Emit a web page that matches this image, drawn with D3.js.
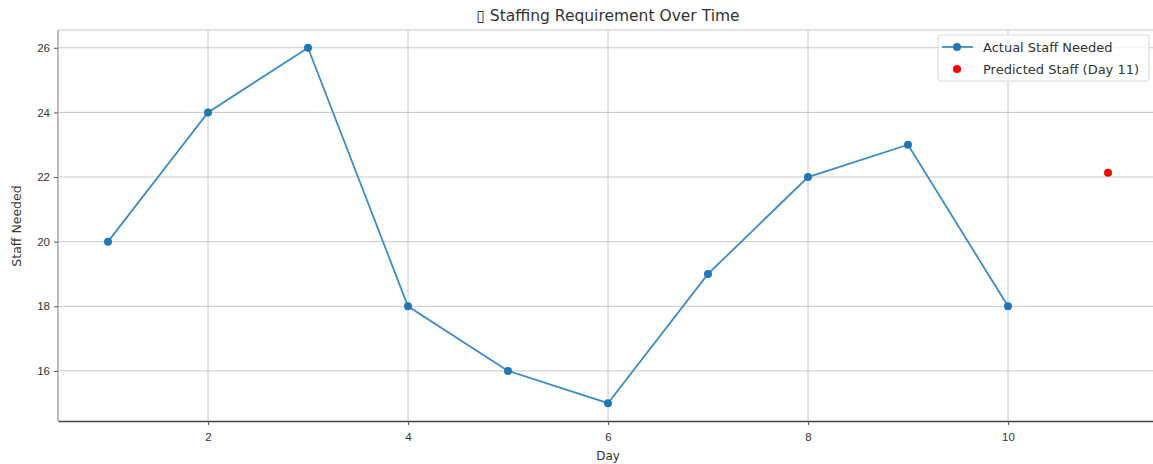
<!DOCTYPE html>
<html lang="en">
<head>
  <meta charset="UTF-8">
  <title>Staffing Requirement Over Time</title>
  <script src="https://d3js.org/d3.v7.min.js"></script>
  <style>
    body { margin: 0; background: #fff; }
    svg { font-family: "DejaVu Sans", sans-serif; }
    .grid line { stroke: #b0b0b0; stroke-opacity: 0.7; stroke-width: 1px; }
    .tick text { fill: #333; font-size: 11.5px; }
  </style>
</head>
<body>
  <svg width="1153" height="464"></svg>

  <script>
    const days = [1, 2, 3, 4, 5, 6, 7, 8, 9, 10];
    const staffNeeded = [20, 24, 26, 18, 16, 15, 19, 22, 23, 18];
    const predictedDay = [11];
    const predictedStaff = [22.13];
    const xTicks = [2, 4, 6, 8, 10];
    const yTicks = [16, 18, 20, 22, 24, 26];

    const data = days.map((d, i) => ({ day: d, value: staffNeeded[i] }));
    const pred = predictedDay.map((d, i) => ({ day: d, value: predictedStaff[i] }));

    const svg = d3.select("svg"),
      margin = { top: 30, right: -5, bottom: 43, left: 58 },
      width = +svg.attr("width") - margin.left - margin.right,
      height = +svg.attr("height") - margin.top - margin.bottom;

    const g = svg.append("g").attr("transform", `translate(${margin.left},${margin.top})`);

    const x = d3.scaleLinear().domain([0.5, 11.5]).range([0, width]);
    const y = d3.scaleLinear().domain([14.45, 26.55]).range([height, 0]);

    // grid
    g.append("g").attr("class", "grid")
      .selectAll("line").data(xTicks).enter().append("line")
      .attr("x1", d => x(d)).attr("x2", d => x(d))
      .attr("y1", 0).attr("y2", height);
    g.append("g").attr("class", "grid")
      .selectAll("line").data(yTicks).enter().append("line")
      .attr("x1", 0).attr("x2", width)
      .attr("y1", d => y(d)).attr("y2", d => y(d));

    // frame
    g.append("line").attr("x1", 0).attr("x2", width).attr("y1", 0).attr("y2", 0)
      .attr("stroke", "#c8c8c8");
    g.append("line").attr("x1", 0).attr("x2", 0).attr("y1", 0).attr("y2", height)
      .attr("stroke", "#bdbdbd").attr("stroke-width", 2);

    // X Axis
    const xAxis = g.append("g")
      .attr("transform", `translate(0,${height})`)
      .call(d3.axisBottom(x).tickValues(xTicks).tickSize(4).tickSizeOuter(0).tickPadding(8).tickFormat(d3.format("d")));
    xAxis.select(".domain").attr("stroke", "#444").attr("stroke-width", 1.5);
    xAxis.selectAll(".tick line").attr("stroke", "#555");

    // Y Axis
    const yAxis = g.append("g")
      .call(d3.axisLeft(y).tickValues(yTicks).tickSize(4).tickSizeOuter(0).tickPadding(4).tickFormat(d3.format("d")));
    yAxis.select(".domain").remove();
    yAxis.selectAll(".tick line").attr("stroke", "#555");

    // Line
    const line = d3.line().x(d => x(d.day)).y(d => y(d.value));
    g.append("path").datum(data)
      .attr("fill", "none")
      .attr("stroke", "#3a8dc8")
      .attr("stroke-width", 1.8)
      .attr("d", line);

    g.selectAll(".pt").data(data).enter().append("circle")
      .attr("class", "pt")
      .attr("cx", d => x(d.day)).attr("cy", d => y(d.value))
      .attr("r", 4).attr("fill", "#1f77b4");

    g.selectAll(".pred").data(pred).enter().append("circle")
      .attr("class", "pred")
      .attr("cx", d => x(d.day)).attr("cy", d => y(d.value))
      .attr("r", 4).attr("fill", "red");

    // Title and labels
    svg.append("text")
      .attr("x", 608).attr("y", 21)
      .attr("text-anchor", "middle")
      .attr("fill", "#333")
      .style("font-size", "15.5px")
      .text("\u25AF Staffing Requirement Over Time");

    svg.append("text")
      .attr("x", 608).attr("y", 460)
      .attr("text-anchor", "middle")
      .attr("fill", "#333")
      .style("font-size", "12px")
      .text("Day");

    svg.append("text")
      .attr("transform", "translate(21,226) rotate(-90)")
      .attr("text-anchor", "middle")
      .attr("fill", "#333")
      .style("font-size", "12.5px")
      .text("Staff Needed");

    // Legend
    const leg = svg.append("g").attr("transform", "translate(938,35)");
    leg.append("rect")
      .attr("width", 211).attr("height", 46).attr("rx", 3)
      .attr("fill", "white").attr("fill-opacity", 0.85)
      .attr("stroke", "#d8d8d8");
    leg.append("line").attr("x1", 4).attr("x2", 35).attr("y1", 12).attr("y2", 12)
      .attr("stroke", "#3a8dc8").attr("stroke-width", 1.8);
    leg.append("circle").attr("cx", 19).attr("cy", 12).attr("r", 4).attr("fill", "#1f77b4");
    leg.append("circle").attr("cx", 19).attr("cy", 34).attr("r", 4).attr("fill", "red");
    leg.append("text").attr("x", 45).attr("y", 16.5).attr("fill", "#333")
      .style("font-size", "13px").text("Actual Staff Needed");
    leg.append("text").attr("x", 45).attr("y", 38.5).attr("fill", "#333")
      .style("font-size", "13px").text("Predicted Staff (Day 11)");
  </script>
</body>
</html>
